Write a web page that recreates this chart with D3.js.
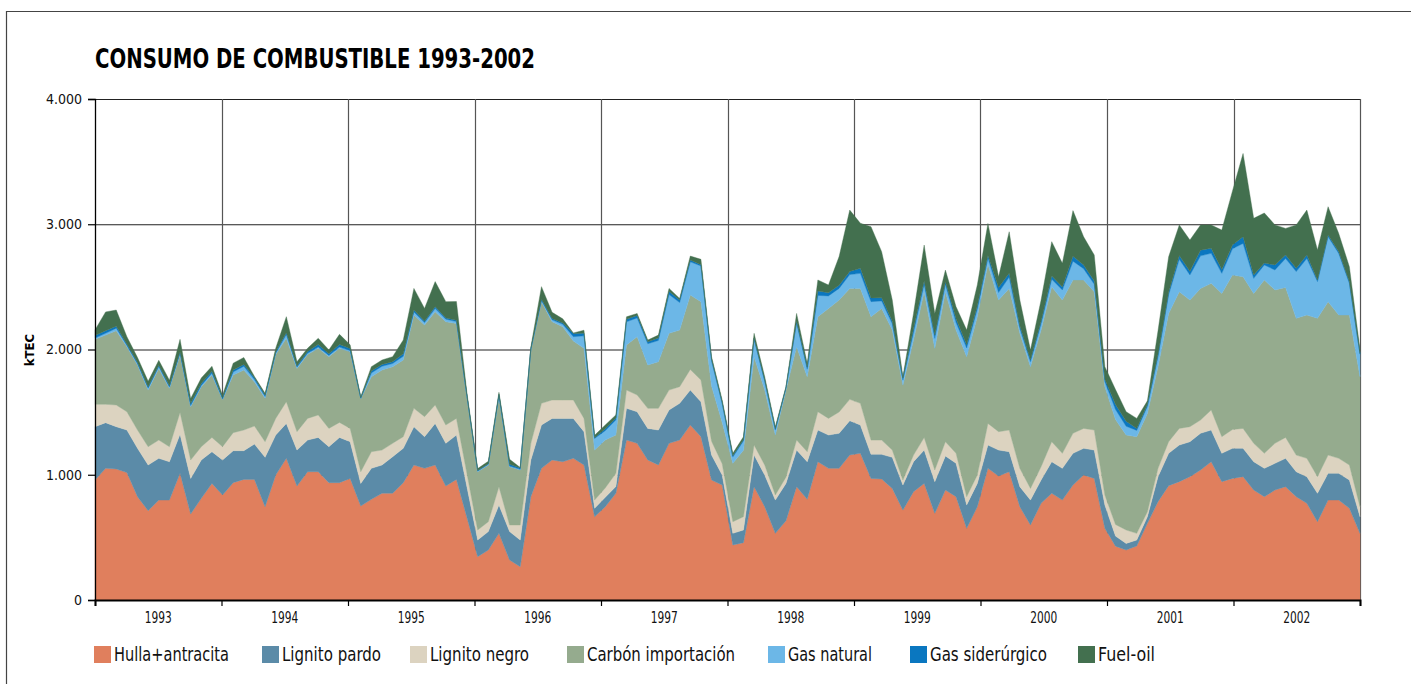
<!DOCTYPE html>
<html>
<head>
<meta charset="utf-8">
<script src="https://cdn.jsdelivr.net/npm/d3@7"></script>
<style>
  body { margin: 0; background: #fff; }
  text { font-family: "Liberation Sans Narrow", "Arial Narrow", "DejaVu Sans Condensed", "Roboto Condensed", Arial, sans-serif; }
</style>
</head>
<body>
<svg id="chart" width="1411" height="684"></svg>
<script>
// Monthly fuel consumption (kTEC), January 1993 - December 2002
const years = ["1993", "1994", "1995", "1996", "1997", "1998", "1999", "2000", "2001", "2002"];
const yTicks = [0, 1000, 2000, 3000, 4000];

const hulla = [
  958, 1051, 1046, 1017, 825, 713, 798, 798, 1011, 687, 812, 931,
  838, 937, 963, 963, 745, 998, 1131, 910, 1024, 1024, 937, 937,
  971, 750, 804, 852, 852, 937, 1078, 1051, 1078, 910, 963, 655,
  346, 399, 532, 319, 266, 825, 1051, 1118, 1104, 1131, 1078, 665,
  745, 852, 1277, 1251, 1118, 1078, 1251, 1277, 1397, 1304, 958, 918,
  439, 458, 905, 745, 532, 633, 905, 804, 1104, 1051, 1051, 1158,
  1171, 971, 966, 891, 718, 865, 931, 692, 878, 825, 572, 745,
  1051, 990, 1024, 745, 599, 772, 852, 798, 918, 998, 971, 572,
  430, 399, 431, 612, 785, 913, 945, 985, 1038, 1104, 945, 971,
  985, 878, 825, 878, 905, 825, 772, 625, 798, 798, 732, 532
];
const lignitoPardo = [
  426, 365, 338, 340, 386, 365, 333, 306, 312, 284, 306, 253,
  280, 255, 229, 282, 394, 319, 279, 287, 253, 274, 287, 361,
  293, 181, 247, 226, 292, 274, 306, 253, 332, 341, 354, 243,
  133, 147, 226, 227, 213, 293, 346, 332, 346, 319, 266, 67,
  75, 55, 253, 252, 252, 279, 266, 293, 279, 279, 200, 80,
  93, 101, 253, 253, 266, 298, 292, 300, 253, 266, 280, 274,
  226, 192, 197, 248, 200, 239, 266, 253, 272, 266, 186, 186,
  186, 207, 160, 160, 199, 186, 252, 253, 253, 213, 226, 186,
  80, 53, 48, 53, 200, 258, 292, 279, 293, 253, 226, 240,
  226, 226, 226, 213, 226, 199, 213, 227, 213, 213, 226, 133
];
const lignitoNegro = [
  178, 146, 173, 146, 146, 146, 146, 120, 175, 147, 106, 114,
  106, 144, 165, 144, 125, 133, 173, 147, 173, 179, 146, 120,
  106, 93, 133, 119, 107, 93, 146, 160, 147, 146, 133, 107,
  80, 79, 147, 53, 120, 133, 173, 147, 147, 147, 106, 66,
  75, 104, 146, 134, 160, 173, 159, 133, 165, 173, 110, 90,
  93, 106, 80, 80, 40, 50, 80, 80, 146, 133, 170, 170,
  173, 114, 114, 58, 40, 53, 101, 93, 114, 80, 67, 67,
  173, 147, 173, 146, 93, 106, 160, 120, 160, 159, 160, 80,
  93, 107, 53, 40, 66, 93, 133, 120, 106, 160, 133, 150,
  159, 147, 120, 160, 167, 133, 146, 133, 146, 120, 120, 80
];
const carbonImportacion = [
  519, 553, 593, 519, 519, 452, 572, 466, 458, 425, 479, 498,
  376, 460, 479, 351, 346, 510, 506, 505, 510, 532, 572, 591,
  612, 586, 599, 639, 612, 612, 745, 731, 745, 825, 758, 611,
  465, 453, 718, 465, 439, 745, 812, 625, 585, 470, 559, 399,
  382, 307, 360, 465, 346, 372, 453, 452, 594, 626, 440, 330,
  466, 530, 704, 598, 479, 695, 745, 599, 759, 878, 894, 886,
  918, 985, 1051, 958, 758, 918, 1163, 971, 1197, 984, 1117, 1264,
  1270, 1051, 1131, 1078, 972, 1091, 1237, 1224, 1224, 1185, 1104, 865,
  838, 758, 772, 785, 812, 1024, 1091, 1011, 1051, 1011, 1144, 1233,
  1211, 1197, 1384, 1224, 1198, 1092, 1144, 1264, 1225, 1144, 1197, 1038
];
const gasNatural = [
  10, 15, 20, 10, 10, 15, 15, 10, 15, 10, 10, 15,
  5, 25, 30, 20, 15, 10, 30, 10, 10, 10, 10, 10,
  10, 0, 30, 30, 25, 30, 25, 20, 25, 20, 15, 5,
  5, 5, 10, 5, 5, 5, 10, 15, 20, 35, 100, 93,
  75, 120, 185, 150, 170, 170, 310, 220, 265, 285, 200, 150,
  50, 75, 140, 70, 40, 15, 190, 60, 170, 100, 93, 110,
  120, 120, 60, 50, 40, 60, 60, 80, 60, 60, 70, 60,
  50, 60, 90, 40, 40, 50, 60, 80, 150, 90, 60, 40,
  80, 70, 50, 55, 80, 150, 260, 200, 260, 240, 160, 210,
  266, 120, 120, 160, 231, 373, 452, 293, 519, 492, 253, 180
];
const gasSiderurgico = [
  20, 20, 15, 10, 10, 10, 10, 10, 10, 15, 15, 15,
  10, 15, 15, 15, 10, 10, 15, 10, 15, 20, 15, 20,
  15, 5, 15, 15, 15, 20, 15, 10, 15, 10, 10, 5,
  5, 5, 10, 15, 10, 5, 10, 10, 10, 25, 20, 5,
  15, 15, 20, 20, 15, 20, 25, 20, 15, 10, 15, 10,
  10, 10, 10, 10, 10, 5, 15, 15, 35, 25, 25, 25,
  40, 30, 25, 20, 15, 30, 25, 25, 20, 30, 25, 25,
  20, 40, 30, 20, 15, 20, 25, 25, 40, 30, 25, 20,
  40, 40, 15, 15, 20, 20, 30, 30, 45, 40, 30, 30,
  53, 27, 15, 40, 27, 27, 27, 13, 13, 13, 13, 5
];
const fuelOil = [
  45, 150, 130, 60, 40, 45, 40, 45, 100, 40, 45, 40,
  20, 55, 55, 10, 15, 30, 128, 33, 25, 50, 30, 82,
  30, 8, 35, 35, 40, 110, 173, 103, 200, 130, 150, 20,
  15, 20, 15, 40, 5, 13, 100, 50, 33, 5, 25, 20,
  30, 25, 20, 16, 14, 23, 24, 13, 31, 43, 20, 19,
  20, 23, 37, 27, 17, 7, 61, 31, 88, 62, 229, 490,
  360, 568, 368, 170, 12, 123, 288, 174, 93, 97, 118, 168,
  256, 85, 332, 206, 78, 170, 275, 188, 364, 225, 208, 100,
  119, 76, 81, 30, 187, 283, 243, 249, 201, 186, 316, 430,
  665, 452, 400, 320, 213, 346, 359, 240, 226, 146, 120, 32
];

const seriesKeys = ["hulla", "lignitoPardo", "lignitoNegro", "carbonImportacion", "gasNatural", "gasSiderurgico", "fuelOil"];
const seriesLabels = ["Hulla+antracita", "Lignito pardo", "Lignito negro", "Carbón importación", "Gas natural", "Gas siderúrgico", "Fuel-oil"];
const seriesColors = ["#e07f5d", "#5b8ba8", "#dcd3c0", "#95ab8e", "#6cb7e7", "#0a77c0", "#43704f"];
const seriesValues = [hulla, lignitoPardo, lignitoNegro, carbonImportacion, gasNatural, gasSiderurgico, fuelOil];

const rows = d3.range(hulla.length).map(i => {
  const r = { month: i };
  seriesKeys.forEach((k, j) => { r[k] = seriesValues[j][i]; });
  return r;
});

const svg = d3.select("#chart");
const plot = { left: 95, right: 1360, top: 99, bottom: 600 };

// Outer frame (left and top edges)
svg.append("path")
  .attr("d", "M6.5,690 V11.5 H1411")
  .attr("fill", "none").attr("stroke", "#444").attr("stroke-width", 1.2);

// Title
svg.append("text")
  .attr("x", 95).attr("y", 68)
  .attr("textLength", 440).attr("lengthAdjust", "spacingAndGlyphs")
  .attr("font-size", 27).attr("font-weight", "bold").attr("fill", "#000")
  .text("CONSUMO DE COMBUSTIBLE 1993-2002");

const x = d3.scaleLinear().domain([0, hulla.length - 1]).range([plot.left, plot.right]);
const xYear = d3.scaleLinear().domain([0, years.length]).range([plot.left, plot.right]);
const y = d3.scaleLinear().domain([0, 4000]).range([plot.bottom, plot.top]);

// Gridlines (behind the areas)
const grid = svg.append("g");
grid.selectAll("line.h").data(yTicks.filter(d => d > 0)).join("line")
  .attr("x1", plot.left).attr("x2", plot.right)
  .attr("y1", d => y(d) + 0.5).attr("y2", d => y(d) + 0.5)
  .attr("stroke", "#222").attr("stroke-width", 1.2);
grid.selectAll("line.v").data(d3.range(1, years.length + 1)).join("line")
  .attr("x1", d => Math.round(xYear(d)) + 0.5).attr("x2", d => Math.round(xYear(d)) + 0.5)
  .attr("y1", plot.top).attr("y2", plot.bottom)
  .attr("stroke", "#555").attr("stroke-width", 1.2);

// Stacked areas
const stack = d3.stack().keys(seriesKeys);
const layers = stack(rows);
const area = d3.area()
  .x(d => x(d.data.month))
  .y0(d => y(d[0]))
  .y1(d => y(d[1]));

svg.append("g").selectAll("path").data(layers).join("path")
  .attr("d", area)
  .attr("fill", (d, i) => seriesColors[i])
  .attr("stroke", (d, i) => seriesColors[i])
  .attr("stroke-width", 0.4);

// Y axis
const yAxis = svg.append("g").attr("transform", `translate(${plot.left},0)`)
  .call(d3.axisLeft(y).tickValues(yTicks).tickSize(7).tickPadding(6)
    .tickFormat(d => d3.format(",")(d).replace(/,/g, ".")));
yAxis.select(".domain").attr("stroke", "#000").attr("stroke-width", 1.3);
yAxis.selectAll(".tick line").attr("stroke", "#000").attr("stroke-width", 1.2);
yAxis.selectAll(".tick text").attr("font-size", 14).attr("fill", "#111")
  .style("font-family", '"Liberation Sans Narrow", "Arial Narrow", "DejaVu Sans Condensed", Arial, sans-serif');

// X axis: ticks at year boundaries, labels centred in each year
const xAxis = svg.append("g").attr("transform", `translate(0,${plot.bottom})`)
  .call(d3.axisBottom(xYear).tickValues(d3.range(0, years.length + 1)).tickSize(6).tickFormat(""));
xAxis.select(".domain").attr("stroke", "#000").attr("stroke-width", 2);
xAxis.selectAll(".tick line").attr("stroke", "#000").attr("stroke-width", 1.2);

svg.append("g").selectAll("text").data(years).join("text")
  .attr("x", (d, i) => xYear(i + 0.5)).attr("y", 623)
  .attr("text-anchor", "middle").attr("font-size", 16).attr("fill", "#111")
  .attr("textLength", 27).attr("lengthAdjust", "spacingAndGlyphs")
  .text(d => d);

// Axis title
svg.append("text")
  .attr("transform", "translate(34,350) rotate(-90)")
  .attr("text-anchor", "middle").attr("font-size", 13).attr("font-weight", "bold")
  .text("kTEC");

// Legend
const legendX = [94, 262, 410, 567, 768, 910, 1078];
const legendTextWidth = [115, 99, 99, 148, 84, 117, 57];
const legend = svg.append("g");
seriesLabels.forEach((label, i) => {
  legend.append("rect")
    .attr("x", legendX[i]).attr("y", 646).attr("width", 17).attr("height", 17)
    .attr("fill", seriesColors[i]);
  legend.append("text")
    .attr("x", legendX[i] + 20).attr("y", 661)
    .attr("font-size", 19).attr("fill", "#111")
    .attr("textLength", legendTextWidth[i]).attr("lengthAdjust", "spacingAndGlyphs")
    .text(label);
});
</script>
</body>
</html>
